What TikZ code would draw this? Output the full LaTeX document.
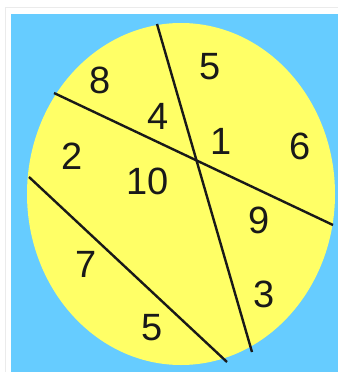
\documentclass[tikz,border=0pt]{standalone}
\usepackage{fontspec}
\setmainfont{Liberation Sans}
\definecolor{skyblue}{RGB}{102,204,255}
\definecolor{paleyellow}{RGB}{255,255,102}
\begin{document}
\begin{tikzpicture}[x=1pt,y=-1pt,
  num/.style={font=\fontsize{38}{38}\selectfont, inner sep=0pt, text=black!90},
  cut/.style={draw=black!90, line width=2.4pt}]
\useasboundingbox (0,0) rectangle (338,372);
\fill[white] (0,0) rectangle (338,372);
\draw[black!8, line width=1pt] (5,7) -- (338,7);
\draw[black!8, line width=1pt] (5,7) -- (5,372);
\fill[skyblue] (11,14) rectangle (338,372);
\fill[paleyellow] (181,194) ellipse [x radius=154, y radius=171];
% cut lines
\coordinate (a1) at (157,24);  \coordinate (a2) at (252,352);
\coordinate (b1) at (54,93);   \coordinate (b2) at (333,225);
\coordinate (c1) at (29,177);  \coordinate (c2) at (227,362);
\draw[cut] (a1) -- (a2);
\draw[cut] (b1) -- (b2);
\draw[cut] (c1) -- (c2);
% numbers
\node[num] (n8) at (100,80) {8};
\node[num] (n5a) at (210,67) {5};
\node[num] (n4) at (158,116) {4};
\node[num] (n1) at (221,141) {1};
\node[num] (n6) at (300,146) {6};
\node[num] (n2) at (72,156) {2};
\node[num] (n10) at (148,181) {10};
\node[num] (n9) at (259,220) {9};
\node[num] (n7) at (86,264) {7};
\node[num] (n3) at (264,294) {3};
\node[num] (n5b) at (152,328) {5};
\end{tikzpicture}
\end{document}
